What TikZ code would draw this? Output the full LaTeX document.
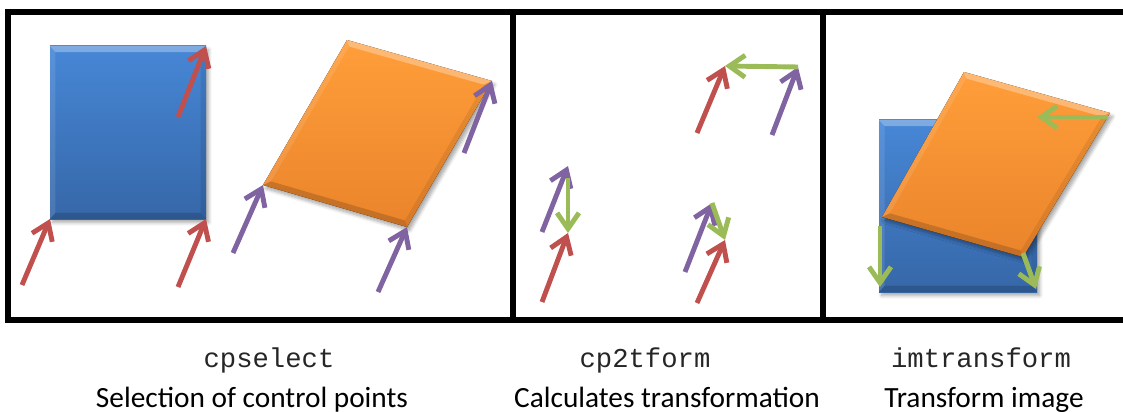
\documentclass[tikz,border=0pt]{standalone}
\usepackage{fontspec}
\setmainfont{Carlito}
\setmonofont{Liberation Mono}
\usetikzlibrary{arrows.meta,calc,shadows.blur}
\definecolor{cred}{HTML}{C0504D}
\definecolor{cpur}{HTML}{8064A2}
\definecolor{cgrn}{HTML}{9BBB59}
\definecolor{btop}{HTML}{4787D6}
\definecolor{bbot}{HTML}{3667A8}
\definecolor{otop}{HTML}{FF9E3A}
\definecolor{obot}{HTML}{EA842B}
\definecolor{txtmono}{HTML}{262626}
\newcommand\bevelshape[6]{%
  \coordinate (#1c) at ($(#2)!0.5!(#4)$);
  \coordinate (#1i1) at ($(#2)!#6!(#1c)$);
  \coordinate (#1i2) at ($(#3)!#6!(#1c)$);
  \coordinate (#1i3) at ($(#4)!#6!(#1c)$);
  \coordinate (#1i4) at ($(#5)!#6!(#1c)$);
  \fill[white,opacity=0.30] (#2) -- (#3) -- (#1i2) -- (#1i1) -- cycle;
  \fill[black,opacity=0.08] (#3) -- (#4) -- (#1i3) -- (#1i2) -- cycle;
  \fill[black,opacity=0.16] (#4) -- (#5) -- (#1i4) -- (#1i3) -- cycle;
  \fill[white,opacity=0.10] (#5) -- (#2) -- (#1i1) -- (#1i4) -- cycle;
}
\begin{document}
\begin{tikzpicture}[x=0.02cm,y=-0.02cm,
  arr/.style={line width=2.8pt,-{Straight Barb[length=9pt,width=12.5pt]}},
  redarr/.style={arr,draw=cred},
  purarr/.style={arr,draw=cpur},
  grnarr/.style={arr,draw=cgrn},
  framel/.style={line width=2.9pt,draw=black},
  blueimg/.style={top color=btop,bottom color=bbot,
    blur shadow={shadow xshift=1.5pt,shadow yshift=-2pt,shadow blur steps=6,shadow opacity=35}},
  orangeimg/.style={top color=otop,bottom color=obot,
    blur shadow={shadow xshift=1.5pt,shadow yshift=-2pt,shadow blur steps=6,shadow opacity=35}},
  fname/.style={font=\fontsize{15.5}{18}\ttfamily,text=txtmono,inner sep=0pt,anchor=base},
  caption/.style={font=\fontsize{16.7}{20}\selectfont,inner sep=0pt,anchor=base},
]
\useasboundingbox (0,0) rectangle (1123,412);

% ---------- panel 1 ----------
\coordinate (b1tl) at (50,46);  \coordinate (b1tr) at (206,46);
\coordinate (b1br) at (206,219); \coordinate (b1bl) at (50,219);
\fill[blueimg] (b1tl) -- (b1tr) -- (b1br) -- (b1bl) -- cycle;
\bevelshape{b1}{b1tl}{b1tr}{b1br}{b1bl}{0.07}

\coordinate (o1t) at (347,40); \coordinate (o1r) at (492,81);
\coordinate (o1b) at (407,227); \coordinate (o1l) at (263,185);
\fill[orangeimg] (o1t) -- (o1r) -- (o1b) -- (o1l) -- cycle;
\bevelshape{o1}{o1t}{o1r}{o1b}{o1l}{0.07}

\coordinate (r1a) at (178,117); \draw[redarr] (r1a) -- (b1tr);
\coordinate (r2a) at (22,285);  \draw[redarr] (r2a) -- (b1bl);
\coordinate (r3a) at (178,287); \draw[redarr] (r3a) -- (b1br);
\coordinate (p1a) at (233,253); \draw[purarr] (p1a) -- (o1l);
\coordinate (p2a) at (378,292); \draw[purarr] (p2a) -- (o1b);
\coordinate (p3a) at (464,153); \draw[purarr] (p3a) -- (o1r);

% ---------- panel 2 ----------
\coordinate (q1) at (725,66);  \coordinate (q1a) at (697,133);
\coordinate (q2) at (798,67);  \coordinate (q2a) at (772,135);
\draw[redarr] (q1a) -- (q1);
\draw[purarr] (q2a) -- (q2);
\draw[grnarr] (q2) -- (q1);

\coordinate (s1) at (568,166); \coordinate (s1a) at (542,232);
\coordinate (s2) at (568,233); \coordinate (s2a) at (542,302);
\coordinate (s3) at (568,178);
\draw[purarr] (s1a) -- (s1);
\draw[redarr] (s2a) -- (s2);
\draw[grnarr] (s3) -- (s2);

\coordinate (u1) at (712,203); \coordinate (u1a) at (685,272);
\coordinate (u2) at (725,240); \coordinate (u2a) at (697,303);
\draw[purarr] (u1a) -- (u1);
\draw[redarr] (u2a) -- (u2);
\draw[grnarr] (u1) -- (u2);

% ---------- panel 3 ----------
\coordinate (b3tl) at (879,120);  \coordinate (b3tr) at (1037,120);
\coordinate (b3br) at (1037,292); \coordinate (b3bl) at (879,292);
\fill[blueimg] (b3tl) -- (b3tr) -- (b3br) -- (b3bl) -- cycle;
\bevelshape{b3}{b3tl}{b3tr}{b3br}{b3bl}{0.07}

\coordinate (o3t) at (964,72); \coordinate (o3r) at (1110,113);
\coordinate (o3b) at (1023,257); \coordinate (o3l) at (882,217);
\fill[orangeimg] (o3t) -- (o3r) -- (o3b) -- (o3l) -- cycle;
\bevelshape{o3}{o3t}{o3r}{o3b}{o3l}{0.07}

\coordinate (g1a) at (1108,117); \coordinate (g1) at (1037,117);
\draw[grnarr] (g1a) -- (g1);
\coordinate (g2a) at (880,226); \coordinate (g2) at (880,287);
\draw[grnarr] (g2a) -- (g2);
\coordinate (g3a) at (1023,253); \coordinate (g3) at (1036,289);
\draw[grnarr] (g3a) -- (g3);

% ---------- frame ----------
\draw[framel] (1126,12) -- (8,12) -- (8,320) -- (1126,320);
\draw[framel] (513,12) -- (513,320);
\draw[framel] (823,12) -- (823,320);

% ---------- labels ----------
\node[fname]   (f1) at (269,367) {cpselect};
\node[caption] (c1) at (252,407) {Selection of control points};
\node[fname]   (f2) at (645,367) {cp2tform};
\node[caption] (c2) at (667,407) {Calculates transformation};
\node[fname]   (f3) at (981,367) {imtransform};
\node[caption] (c3) at (984,407) {Transform image};
\end{tikzpicture}
\end{document}
